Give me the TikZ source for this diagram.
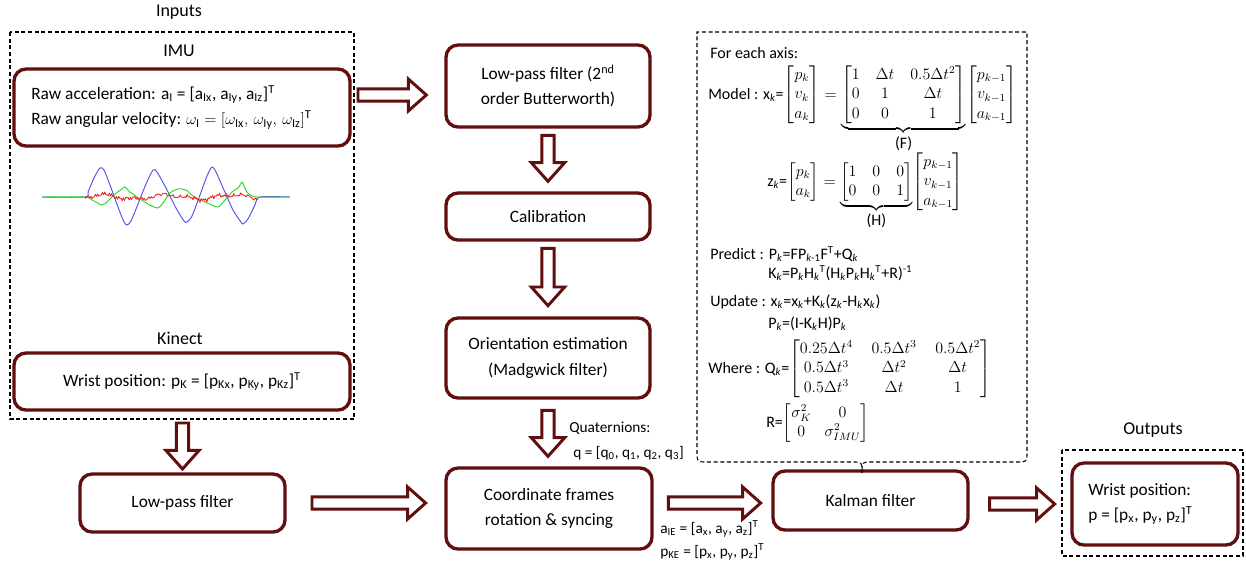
\documentclass[tikz,border=0pt]{standalone}
\usepackage{amsmath}
\usepackage{fontspec}
\setmainfont{Carlito}
\usetikzlibrary{calc}

\definecolor{brd}{RGB}{96,14,14}
\definecolor{sigblue}{RGB}{80,80,235}
\definecolor{siggreen}{RGB}{40,215,40}
\definecolor{sigred}{RGB}{240,30,30}

% hollow block arrow pointing right, from #1 to the tip #2
\newcommand{\hblock}[2]{%
  \draw[blk] let \p1=(#1), \p2=(#2) in
    (\x1,\y1+4.6pt) -- (\x2-13.5pt,\y1+4.6pt) -- (\x2-13.5pt,\y1+12pt) -- (\x2,\y1)
    -- (\x2-13.5pt,\y1-12pt) -- (\x2-13.5pt,\y1-4.6pt) -- (\x1,\y1-4.6pt) -- cycle;}
% hollow block arrow pointing down, from #1 to the tip #2
\newcommand{\vblock}[2]{%
  \draw[blk] let \p1=(#1), \p2=(#2) in
    (\x1-4.6pt,\y1) -- (\x1-4.6pt,\y2+14pt) -- (\x1-12.5pt,\y2+14pt) -- (\x1,\y2)
    -- (\x1+12.5pt,\y2+14pt) -- (\x1+4.6pt,\y2+14pt) -- (\x1+4.6pt,\y1) -- cycle;}

\begin{document}
\begin{tikzpicture}[x=0.75pt,y=-0.75pt,
  box/.style={draw=brd, line width=2.5pt, rounded corners=9pt, align=center,
    inner sep=0pt, font=\fontsize{13}{19}\selectfont},
  grp/.style={draw=black, line width=0.8pt, dash pattern=on 3pt off 2pt},
  blk/.style={draw=brd, line width=2.2pt, fill=white, line join=miter},
  lbl/.style={inner sep=0pt, font=\fontsize{13.5}{16}\selectfont},
  kt/.style={inner sep=0pt, anchor=base west, font=\fontsize{12}{14.5}\selectfont},
  note/.style={inner sep=0pt, anchor=base west, font=\fontsize{11.5}{14}\selectfont},
  sig/.style={line width=0.7pt, line join=round}]
\useasboundingbox (0,0) rectangle (1246,569);

% ---------- input group ----------
\node[lbl] (inlbl) at (179,12) {Inputs};
\draw[grp] (10,32) rectangle (354,419);
\coordinate (inputs-ne) at (354,32);
\node[lbl] (imulbl) at (179,51) {IMU};
\node[box, minimum width=252pt, minimum height=57.75pt] (imu) at (182,107.5)
  {\parbox{226pt}{\raggedright
   Raw acceleration: a\textsubscript{I} = [a\textsubscript{Ix}, a\textsubscript{Iy}, a\textsubscript{Iz}]\textsuperscript{T}\\
   Raw angular velocity: $\omega_{\mathrm{I}} = [\omega_{\mathrm{Ix}},\, \omega_{\mathrm{Iy}},\, \omega_{\mathrm{Iz}}]^{\mathrm{T}}$}};

% raw IMU signals
\draw[sig, sigblue] plot[smooth, tension=0.45] coordinates {
  (42,197) (85,197) (88,192) (94,178) (100,168) (104,170) (110,185) (118,207)
  (124,222) (127,225) (131,221) (138,204) (146,184) (153,170) (157,172) (166,188)
  (176,208) (184,221) (187,222) (192,216) (200,195) (207,176) (212,167) (216,172)
  (224,190) (233,210) (241,222) (243,224) (248,219) (255,205) (260,197) (290,197)};
\draw[sig, siggreen] plot[smooth, tension=0.45] coordinates {
  (42,197) (85,197) (92,200) (102,205) (108,201) (115,194) (122,189) (125,187)
  (130,192) (140,199) (150,205) (158,208) (163,203) (170,193) (178,189) (186,190)
  (193,196) (203,201) (212,205) (218,207) (225,200) (232,192) (238,188) (242,182)
  (244,186) (247,192) (252,196) (258,197) (290,197)};
\draw[sig, sigred, line width=0.6pt] plot[domain=85:258, samples=150, variable=\t]
  (\t, {197 + 1.1*sin(mod(\t*15.7,36)*10) + 0.9*sin(mod(\t*26.3+3,36)*10)
        + 0.7*sin(mod(\t*41.1,36)*10) - 2.0*sin((\t-85)*5.5) + 1.2*sin((\t-85)*13)});

\node[lbl] (kinlbl) at (180,338) {Kinect};
\node[box, minimum width=252pt, minimum height=42.75pt] (kin) at (182,381.5)
  {Wrist position: p\textsubscript{K} = [p\textsubscript{Kx}, p\textsubscript{Ky}, p\textsubscript{Kz}]\textsuperscript{T}};

% ---------- processing chain ----------
\node[box, minimum width=153pt, minimum height=61.5pt] (lpf2) at (548,86)
  {Low-pass filter (2\textsuperscript{nd}\\order Butterworth)};
\node[box, minimum width=153pt, minimum height=35.25pt] (cal) at (548,216.5) {Calibration};
\node[box, minimum width=153pt, minimum height=60pt] (ori) at (548,358)
  {Orientation estimation\\(Madgwick filter)};
\node[box, minimum width=154.5pt, minimum height=60.75pt] (coord) at (549,508.5)
  {Coordinate frames\\rotation \& syncing};
\node[box, minimum width=153.75pt, minimum height=43.5pt] (lpf) at (182.5,503) {Low-pass filter};
\node[box, minimum width=146.25pt, minimum height=44.25pt] (kal) at (870.5,500.5) {Kalman filter};

\node[note] (quat1) at (569,432) {Quaternions:};
\node[note] (quat2) at (573,457) {q = [q\textsubscript{0}, q\textsubscript{1}, q\textsubscript{2}, q\textsubscript{3}]};
\node[note] (aie) at (660,533)
  {a\textsubscript{IE} = [a\textsubscript{x}, a\textsubscript{y}, a\textsubscript{z}]\textsuperscript{T}};
\node[note] (pke) at (660,556)
  {p\textsubscript{KE} = [p\textsubscript{x}, p\textsubscript{y}, p\textsubscript{z}]\textsuperscript{T}};

% ---------- output group ----------
\node[lbl] (outlbl) at (1153,430) {Outputs};
\draw[grp] (1062,450) rectangle (1243,556);
\coordinate (outgrp-w) at (1062,504);
\node[box, minimum width=124.5pt, minimum height=61.5pt] (out) at (1155,504)
  {\parbox{100pt}{\raggedright Wrist position:\\p = [p\textsubscript{x}, p\textsubscript{y}, p\textsubscript{z}]\textsuperscript{T}}};

% ---------- Kalman model frame ----------
\coordinate (kbtip) at (862,473);
\draw[grp] (kbtip) .. controls (862,462) .. (853,462) -- (707,462)
  .. controls (697,462) .. (697,452) -- (697,32) -- (1027,32) -- (1027,452)
  .. controls (1027,462) .. (1017,462) -- (871,462) .. controls (862,462) .. (kbtip);

\node[kt] (foreach) at (710,58) {For each axis:};
\node[kt] (model) at (708,99)
  {Model : x\textsubscript{\textit{k}}=$\begin{bmatrix}p_k\\ v_k\\ a_k\end{bmatrix}
   = \underbrace{\setlength{\arraycolsep}{6pt}\begin{bmatrix}1 & \Delta t & 0.5\Delta t^2\\ 0 & 1 & \Delta t\\ 0 & 0 & 1\end{bmatrix}}_{\textstyle\text{(F)}}
   \!\begin{bmatrix}p_{k-1}\\ v_{k-1}\\ a_{k-1}\end{bmatrix}$};
\node[kt] (zmodel) at (767,186)
  {z\textsubscript{\textit{k}}=$\begin{bmatrix}p_k\\ a_k\end{bmatrix}
   = \underbrace{\setlength{\arraycolsep}{6pt}\begin{bmatrix}1 & 0 & 0\\ 0 & 0 & 1\end{bmatrix}}_{\textstyle\text{(H)}}
   \!\begin{bmatrix}p_{k-1}\\ v_{k-1}\\ a_{k-1}\end{bmatrix}$};
\node[kt] (predict) at (710,259)
  {Predict : P\textsubscript{\textit{k}}=FP\textsubscript{\textit{k}-1}F\textsuperscript{T}+Q\textsubscript{\textit{k}}};
\node[kt] (gain) at (768,278)
  {K\textsubscript{\textit{k}}=P\textsubscript{\textit{k}}H\textsubscript{\textit{k}}\textsuperscript{T}(H\textsubscript{\textit{k}}P\textsubscript{\textit{k}}H\textsubscript{\textit{k}}\textsuperscript{T}+R)\textsuperscript{-1}};
\node[kt] (update) at (710,306)
  {Update : x\textsubscript{\textit{k}}=x\textsubscript{\textit{k}}+K\textsubscript{\textit{k}}(z\textsubscript{\textit{k}}-H\textsubscript{\textit{k}}x\textsubscript{\textit{k}})};
\node[kt] (pupd) at (768,328)
  {P\textsubscript{\textit{k}}=(I-K\textsubscript{\textit{k}}H)P\textsubscript{\textit{k}}};
\node[kt] (where) at (708,373)
  {Where : Q\textsubscript{\textit{k}}=$\setlength{\arraycolsep}{7pt}\begin{bmatrix}
     0.25\Delta t^4 & 0.5\Delta t^3 & 0.5\Delta t^2\\
     0.5\Delta t^3 & \Delta t^2 & \Delta t\\
     0.5\Delta t^3 & \Delta t & 1\end{bmatrix}$};
\node[kt] (rmat) at (766,427)
  {R=$\begin{bmatrix}\sigma_K^2 & 0\\ 0 & \sigma_{IMU}^2\end{bmatrix}$};

% ---------- block arrows ----------
\coordinate (a1s) at ([xshift=3pt]inputs-ne |- 0,95);
\coordinate (a1e) at ([xshift=-13.5pt]lpf2.west |- a1s);
\hblock{a1s}{a1e}
\vblock{[yshift=-5pt]lpf2.south}{[yshift=7.5pt]cal.north}
\vblock{[yshift=-5pt]cal.south}{[yshift=8pt]ori.north}
\vblock{[yshift=-8pt]ori.south}{[yshift=7.5pt]coord.north}
\coordinate (a5s) at ([yshift=-3pt]lpf.north |- 0,419);
\vblock{a5s}{[yshift=2.5pt]lpf.north}
\hblock{[xshift=19pt]lpf.east}{[xshift=-14pt]coord.west |- lpf.east}
\coordinate (a7s) at ([xshift=11pt]coord.east |- lpf.east);
\hblock{a7s}{[xshift=-8pt]kal.west |- a7s}
\coordinate (a8s) at ([xshift=15pt]kal.east |- out.west);
\hblock{a8s}{[xshift=-5.5pt]outgrp-w |- a8s}
\end{tikzpicture}
\end{document}
